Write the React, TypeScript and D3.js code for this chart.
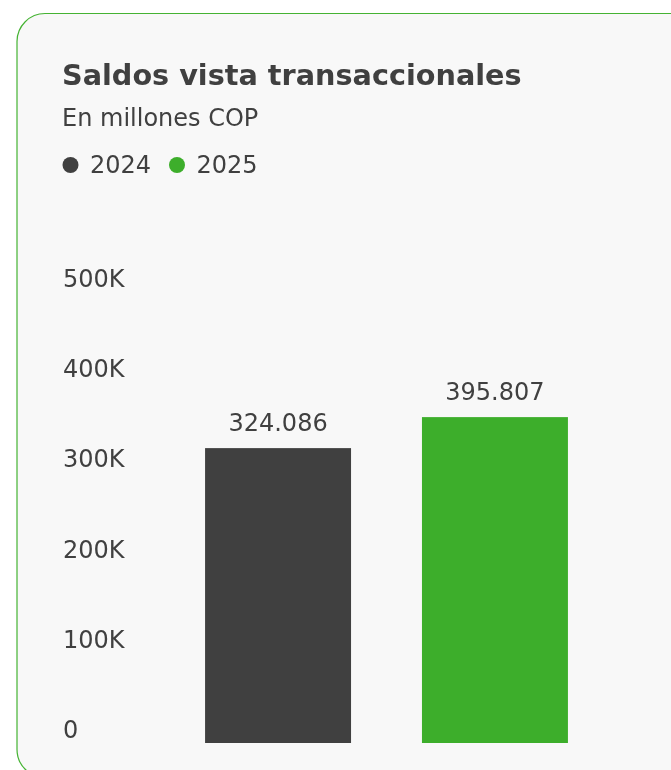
import { useEffect, useRef } from 'react';
import * as d3 from 'd3';

const years = ['2024', '2025'];
const balances = [324086, 395807];
const yTicks = [0, 100000, 200000, 300000, 400000, 500000];
const title = 'Saldos vista transaccionales';
const subtitle = 'En millones COP';

const App: React.FC = () => {
	const svgRef = useRef<SVGSVGElement>(null);
	const width = 671;
	const height = 770;
	const colors = { '2024': '#404040', '2025': '#3dae2b' };
	const textColor = '#404040';
	const font = '"DejaVu Sans", sans-serif';

	useEffect(() => {
		if (!svgRef.current) return;

		d3.select(svgRef.current).selectAll('*').remove();

		const svg = d3
			.select(svgRef.current)
			.attr('width', width)
			.attr('height', height)
			.style('font-family', font);

		// card
		svg.append('rect')
			.attr('x', 17)
			.attr('y', 13.5)
			.attr('width', 740)
			.attr('height', 764)
			.attr('rx', 28)
			.attr('fill', '#f8f8f8')
			.attr('stroke', '#45b333')
			.attr('stroke-width', 1.2);

		svg.append('text')
			.attr('x', 62)
			.attr('y', 85)
			.attr('font-size', 28.7)
			.attr('font-weight', 'bold')
			.attr('fill', textColor)
			.text(title);

		svg.append('text')
			.attr('x', 62)
			.attr('y', 126)
			.attr('font-size', 24)
			.attr('fill', textColor)
			.text(subtitle);

		// legend
		const legendX = d3.scaleOrdinal<string, number>().domain(years).range([70.5, 177]);
		const legend = svg
			.selectAll('.legend-item')
			.data(years)
			.enter()
			.append('g')
			.attr('class', 'legend-item')
			.attr('transform', (d) => `translate(${legendX(d)},165)`);

		legend.append('circle')
			.attr('r', 8)
			.attr('fill', (d) => colors[d as keyof typeof colors]);

		legend.append('text')
			.attr('x', 19.5)
			.attr('y', 8.3)
			.attr('font-size', 24)
			.attr('fill', textColor)
			.text((d) => d);

		// y labels, evenly spaced column
		const yLabelScale = d3.scaleLinear().domain([0, 500000]).range([729.4, 277.9]);
		const fmtTick = (v: number) => (v === 0 ? '0' : `${v / 1000}K`);

		svg.append('g')
			.attr('class', 'axis axis-y')
			.selectAll('text')
			.data(yTicks)
			.enter()
			.append('text')
			.attr('x', 63)
			.attr('y', (d) => yLabelScale(d) + 8.7)
			.attr('font-size', 24)
			.attr('fill', textColor)
			.text(fmtTick);

		// bars
		const baseline = 743;
		const xScale = d3
			.scaleBand<string>()
			.domain(years)
			.range([140, 633])
			.paddingInner(0.327)
			.paddingOuter(0.3);

		const yScale = d3
			.scaleSqrt()
			.domain([0, 500000])
			.range([baseline, baseline - 0.518 * Math.sqrt(500000)]);

		const data = years.map((y, i) => ({ year: y, value: balances[i] }));

		svg.append('g')
			.selectAll('rect')
			.data(data)
			.enter()
			.append('rect')
			.attr('x', (d) => xScale(d.year)!)
			.attr('y', (d) => yScale(d.value))
			.attr('width', xScale.bandwidth())
			.attr('height', (d) => baseline - yScale(d.value))
			.attr('fill', (d) => colors[d.year as keyof typeof colors]);

		const es = d3.formatLocale({
			decimal: ',',
			thousands: '.',
			grouping: [3],
			currency: ['$', ''],
		});
		const fmtValue = es.format(',d');

		svg.append('g')
			.selectAll('text')
			.data(data)
			.enter()
			.append('text')
			.attr('x', (d) => xScale(d.year)! + xScale.bandwidth() / 2)
			.attr('y', (d) => yScale(d.value) - 17)
			.attr('text-anchor', 'middle')
			.attr('font-size', 24)
			.attr('fill', textColor)
			.text((d) => fmtValue(d.value));
	}, []);

	return (
		<div style={{ position: 'fixed', left: 0, top: 0 }}>
			<svg ref={svgRef} style={{ display: 'block' }}></svg>
		</div>
	);
};

export default App;
